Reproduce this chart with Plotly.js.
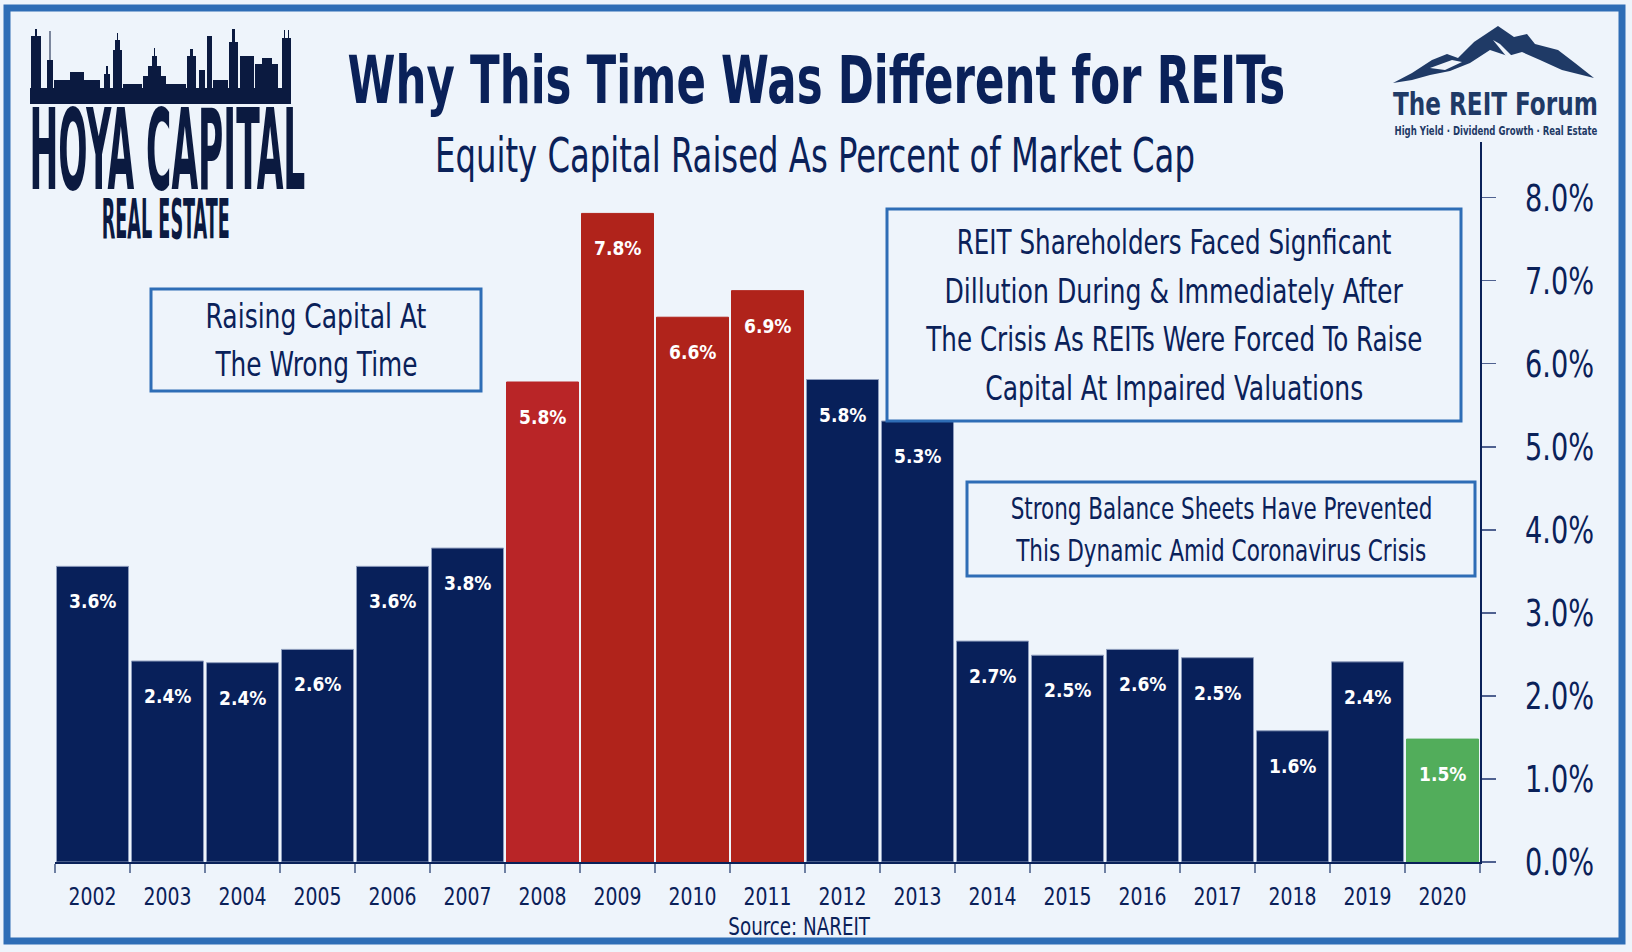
<!DOCTYPE html>
<html>
<head>
<meta charset="utf-8">
<script src="https://cdn.plot.ly/plotly-3.0.1.min.js"></script>
<style>
  html, body { margin: 0; padding: 0; background: #eef4fb; }
  #chart { width: 1632px; height: 952px; }
</style>
</head>
<body>
<div id="chart"></div>
<script>
'use strict';

// Data
var years = ['2002', '2003', '2004', '2005', '2006', '2007', '2008', '2009', '2010', '2011',
             '2012', '2013', '2014', '2015', '2016', '2017', '2018', '2019', '2020'];
var raised = [3.56, 2.42, 2.40, 2.56, 3.56, 3.78, 5.78, 7.81, 6.56, 6.88,
              5.81, 5.31, 2.66, 2.49, 2.56, 2.46, 1.58, 2.41, 1.48];
var periods = ['base', 'base', 'base', 'base', 'base', 'base', 'gfc08', 'gfc', 'gfc', 'gfc',
               'base', 'base', 'base', 'base', 'base', 'base', 'base', 'base', 'covid'];
var yTicks = [0, 1, 2, 3, 4, 5, 6, 7, 8];

var titleText = 'Why This Time Was Different for REITs';
var subtitleText = 'Equity Capital Raised As Percent of Market Cap';
var sourceText = 'Source: NAREIT';
var boxWrong = ['Raising Capital At', 'The Wrong Time'];
var boxDilution = ['REIT Shareholders Faced Signficant', 'Dillution During & Immediately After',
                   'The Crisis As REITs Were Forced To Raise', 'Capital At Impaired Valuations'];
var boxStrong = ['Strong Balance Sheets Have Prevented', 'This Dynamic Amid Coronavirus Crisis'];
var forumTag = 'High Yield · Dividend Growth · Real Estate';

var W = 1632, H = 952;
var NAVY = '#0a2159';
var BG = '#eef4fb';
var FRAME = '#2e6db6';
var FONT = '"DejaVu Sans Condensed", "Liberation Sans Narrow", sans-serif';

var fills = { base: '#08205a', gfc08: '#b92527', gfc: '#b0231b', covid: '#52ad5b' };
var edges = { base: '#8d9cbc', gfc08: '#b92527', gfc: '#b0231b', covid: '#52ad5b' };

// widths (px) the condensed texts take in the picture
var textWidths = {};
textWidths[titleText] = 938;
textWidths[subtitleText] = 760;
textWidths[sourceText] = 142;
textWidths['HOYA CAPITAL'] = 276;
textWidths['REAL ESTATE'] = 128;
textWidths['The REIT Forum'] = 205;
textWidths[forumTag] = 203;
[221, 203].forEach(function (w, i) { textWidths[boxWrong[i]] = w; });
[435, 459, 497, 378].forEach(function (w, i) { textWidths[boxDilution[i]] = w; });
[422, 411].forEach(function (w, i) { textWidths[boxStrong[i]] = w; });
var xTickWidth = 48;   // "2002"
var yTickWidth = 69;   // "2.0%"

// pixel -> paper helpers (margins are zero, so paper == whole figure)
function px (x) { return x / W; }
function py (y) { return 1 - y / H; }

function pathFrom (points) {
    return points.map(function (p, i) {
        return (i === 0 ? 'M' : 'L') + px(p[0]).toFixed(5) + ',' + py(p[1]).toFixed(5);
    }).join(' ') + ' Z';
}

function rect (x0, y0, x1, y1, fill, line, lw) {
    return {
        type: 'rect', xref: 'paper', yref: 'paper', layer: 'above',
        x0: px(x0), x1: px(x1), y0: py(y1), y1: py(y0),
        fillcolor: fill, line: { color: line || fill, width: lw || 0 }
    };
}

function label (text, x, y, size, opts) {
    opts = opts || {};
    return {
        xref: 'paper', yref: 'paper', x: px(x), y: py(y),
        text: text, showarrow: false,
        xanchor: 'center', yanchor: 'middle',
        font: { family: FONT, size: size, color: opts.color || NAVY, weight: opts.weight || 400 }
    };
}

// Bars
var trace = {
    type: 'bar',
    x: years,
    y: raised,
    marker: {
        color: periods.map(function (p) { return fills[p]; }),
        line: { color: periods.map(function (p) { return edges[p]; }), width: 1 }
    },
    hoverinfo: 'none',
    showlegend: false
};

var annotations = [];

// value labels inside the top of each bar
years.forEach(function (yr, i) {
    annotations.push({
        x: i, y: raised[i], xref: 'x', yref: 'y',
        text: raised[i].toFixed(1) + '%',
        showarrow: false, yanchor: 'middle', yshift: -35,
        font: { family: FONT, size: 19, color: '#ffffff', weight: 700 }
    });
});

// titles
annotations.push(label(titleText, 816, 80, 65, { weight: 700 }));
annotations.push(label(subtitleText, 815, 155, 48));
annotations.push(label(sourceText, 799, 926, 25));

// boxed notes, one annotation per line
boxWrong.forEach(function (t, i) { annotations.push(label(t, 316, 316 + i * 48, 34)); });
boxDilution.forEach(function (t, i) { annotations.push(label(t, 1174, 242 + i * 48.7, 34)); });
boxStrong.forEach(function (t, i) { annotations.push(label(t, 1221, 508 + i * 42, 30)); });

// logos
annotations.push(label('HOYA CAPITAL', 167, 150, 112, { color: '#0b1a40', weight: 700 }));
annotations.push(label('REAL ESTATE', 166, 219, 55, { color: '#0b1a40', weight: 700 }));
annotations.push(label('The REIT Forum', 1495, 104, 32, { color: '#1f3a66', weight: 700 }));
annotations.push(label(forumTag, 1496, 131, 13, { color: '#1f3a66', weight: 700 }));

var shapes = [];

// outer frame
shapes.push(rect(7, 8, 1622, 941, 'rgba(0,0,0,0)', FRAME, 7));

// note boxes
shapes.push(rect(151, 289, 481, 391, BG, FRAME, 3));
shapes.push(rect(887, 209, 1461, 421, BG, FRAME, 3));
shapes.push(rect(967, 482, 1475, 576, BG, FRAME, 3));

// skyline above the Hoya logo
var SKY = '#0b1a40';
shapes.push(rect(30, 88, 291, 104, SKY));
[
    [31, 41, 36], [35, 37, 29], [47, 53, 60], [49.5, 50.5, 31], [54, 100, 80], [70, 84, 72],
    [104, 110, 74], [106, 108, 66], [113, 122, 50], [115, 120, 40], [117, 118, 33],
    [123, 142, 84], [143, 166, 76], [148, 161, 66], [152, 157, 56], [154, 155, 48],
    [166, 186, 84], [187, 196, 56], [190, 193, 49], [199, 205, 70], [207, 212, 36],
    [213, 228, 80], [229, 238, 42], [232, 235, 29], [240, 254, 56], [255, 278, 64],
    [262, 272, 58], [282, 291, 38], [284, 285, 30], [288, 289, 30]
].forEach(function (b) { shapes.push(rect(b[0], b[2], b[1], 90, SKY)); });

// mountain of the REIT Forum logo
shapes.push({
    type: 'path', xref: 'paper', yref: 'paper', layer: 'above',
    path: pathFrom([[1393, 83], [1412, 73], [1432, 60], [1447, 54], [1458, 58], [1474, 42], [1498, 26],
                    [1514, 37], [1527, 34], [1535, 44], [1558, 50], [1575, 63], [1594, 78], [1562, 70],
                    [1540, 60], [1522, 52], [1508, 56], [1490, 50], [1470, 63], [1450, 71], [1430, 75],
                    [1412, 80]]),
    fillcolor: '#1f3a66', line: { width: 0 }
});
shapes.push({
    type: 'path', xref: 'paper', yref: 'paper', layer: 'above',
    path: pathFrom([[1430, 68], [1452, 60], [1462, 62], [1445, 70]]),
    fillcolor: BG, line: { width: 0 }
});
shapes.push({
    type: 'path', xref: 'paper', yref: 'paper', layer: 'above',
    path: pathFrom([[1493, 40], [1500, 44], [1514, 58], [1506, 56]]),
    fillcolor: BG, line: { width: 0 }
});

var layout = {
    width: W,
    height: H,
    margin: { l: 0, r: 0, t: 0, b: 0 },
    paper_bgcolor: BG,
    plot_bgcolor: BG,
    bargap: 0.04,
    showlegend: false,
    xaxis: {
        type: 'category',
        domain: [px(55), px(1480)],
        range: [-0.5, years.length - 0.5],
        showgrid: false,
        showline: true,
        linecolor: NAVY,
        linewidth: 1.5,
        ticks: 'outside',
        tickson: 'boundaries',
        ticklen: 9,
        tickwidth: 1.5,
        tickcolor: '#6f80a3',
        tickangle: 0,
        ticklabelstandoff: 12,
        tickfont: { family: FONT, size: 25, color: NAVY },
        automargin: false,
        fixedrange: true
    },
    yaxis: {
        domain: [1 - 862 / H, 1 - 142 / H],
        range: [0, 8.67],
        side: 'right',
        anchor: 'x',
        tickvals: yTicks,
        ticktext: yTicks.map(function (v) { return v.toFixed(1) + '%'; }),
        showgrid: false,
        zeroline: false,
        showline: true,
        linecolor: NAVY,
        linewidth: 1.5,
        ticks: 'outside',
        ticklen: 14,
        tickwidth: 1.5,
        tickcolor: '#4f6190',
        ticklabelstandoff: 22,
        tickfont: { family: FONT, size: 38, color: NAVY },
        automargin: false,
        fixedrange: true
    },
    annotations: annotations,
    shapes: shapes
};

// squeeze one text element horizontally around a local x, keeping its own transform
function squeeze (t, width, anchor) {
    var b = t.getBBox();
    if (!b.width) return;
    var ax = anchor === 'start' ? b.x : b.x + b.width / 2;
    var s = width / b.width;
    var old = t.getAttribute('transform') || '';
    t.setAttribute('transform', old + ' translate(' + ax + ',0) scale(' + s + ',1) translate(' + (-ax) + ',0)');
}

function squeezeTexts (gd) {
    Array.prototype.forEach.call(gd.querySelectorAll('.annotation-text'), function (t) {
        var width = textWidths[t.textContent];
        if (width) squeeze(t, width, 'middle');
    });
    Array.prototype.forEach.call(gd.querySelectorAll('.xtick text'), function (t) {
        squeeze(t, xTickWidth, 'middle');
    });
    Array.prototype.forEach.call(gd.querySelectorAll('.ytick text'), function (t) {
        squeeze(t, yTickWidth, 'start');
    });
}

var node = document.getElementById('chart');
Plotly.newPlot(node, [trace], layout, { displayModeBar: false, staticPlot: true }).then(squeezeTexts);
</script>
</body>
</html>
